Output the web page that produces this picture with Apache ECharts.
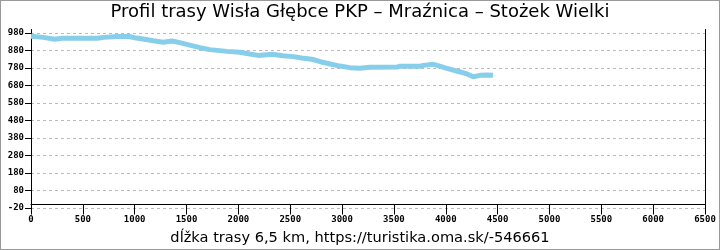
<html>
<head>
    <meta charset="utf-8">
    <title>Profil trasy</title>
    <script src="https://cdn.jsdelivr.net/npm/echarts@6/dist/echarts.min.js"></script>
    <style>
        body { margin: 0; background: #fff; }
        #main { width: 720px; height: 250px; box-sizing: border-box; border: 1px solid #999; }
    </style>
</head>
<body>
    <div id="main"></div>
    <script type="text/javascript">
        // vzdialenost (m) a nadmorska vyska (m)
        var distance = [0, 120, 230, 300, 640, 700, 830, 950, 1000, 1080, 1180, 1275, 1360, 1435, 1530, 1630,
            1725, 1890, 2015, 2110, 2190, 2325, 2430, 2530, 2610, 2710, 2790, 2885, 2980, 3075, 3170,
            3270, 3530, 3560, 3750, 3785, 3880, 3925, 4010, 4105, 4205, 4265, 4330, 4400, 4455];
        var elevation = [961, 955, 944, 950, 950, 955, 960, 960, 953, 946, 936, 927, 934, 925, 911, 896,
            885, 875, 870, 860, 852, 858, 850, 845, 837, 830, 816, 803, 791, 782, 778,
            784, 785, 790, 790, 795, 801, 793, 778, 763, 746, 730, 738, 740, 738];
        var titleText = 'Profil trasy Wisła Głębce PKP – Mraźnica – Stożek Wielki';
        var xName = 'dĺžka trasy 6,5 km, https://turistika.oma.sk/-546661';

        var points = distance.map(function (d, i) { return [d, elevation[i]]; });
        var labelFont = { color: '#000', fontFamily: 'DejaVu Sans Mono', fontWeight: 'bold', fontSize: 9 };
        var plain = function (v) { return String(v); };

        var myChart = echarts.init(document.getElementById('main'));
        var option = {
            animation: false,
            title: [{
                text: titleText,
                left: 'center',
                top: 2,
                padding: 0,
                textStyle: { fontFamily: 'DejaVu Sans', fontWeight: 'normal', fontSize: 18, color: '#000' }
            }, {
                // popis osi x pod grafom
                text: xName,
                left: 'center',
                top: 230,
                padding: 0,
                textStyle: { fontFamily: 'DejaVu Sans', fontWeight: 'normal', fontSize: 14.6, color: '#000' }
            }],
            grid: { left: 30, right: 14, top: 28.5, bottom: 41, outerBoundsMode: 'none', containLabel: false },
            xAxis: {
                type: 'value',
                min: 0, max: 6500, interval: 500,
                // os x lezi na nulovej vyske (20 m nad spodkom grafu)
                offset: -3.5,
                axisLine: { onZero: false, lineStyle: { color: '#000', width: 1 } },
                axisTick: { length: 10, lineStyle: { color: '#000' } },
                axisLabel: Object.assign({ margin: 11, formatter: plain }, labelFont),
                splitLine: { show: false }
            },
            yAxis: [{
                type: 'value',
                min: -20, max: 1000, interval: 100,
                axisLine: { show: true, onZero: false, lineStyle: { color: '#000', width: 1 } },
                axisTick: { show: true, length: 6, lineStyle: { color: '#000' } },
                axisLabel: Object.assign({ margin: 7, showMaxLabel: false, formatter: plain }, labelFont),
                splitLine: { show: true, showMaxLine: false, lineStyle: { color: '#bbb', type: [3, 3] } }
            }, {
                type: 'value',
                position: 'right',
                min: -20, max: 1000,
                axisLine: { show: true, onZero: false, lineStyle: { color: '#000', width: 1 } },
                axisTick: { show: false },
                axisLabel: { show: false },
                splitLine: { show: false }
            }],
            series: [{
                type: 'line',
                data: points,
                showSymbol: false,
                lineStyle: { color: '#87ceeb', width: 5 },
                z: 5
            }]
        };
        myChart.setOption(option);
    </script>
</body>
</html>
